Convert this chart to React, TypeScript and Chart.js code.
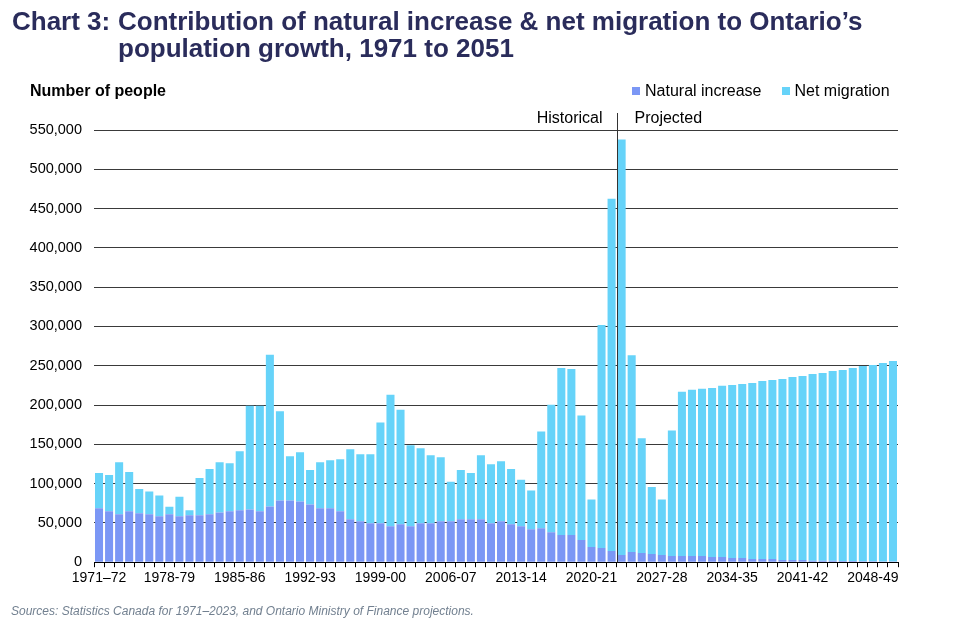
import React, { useEffect, useRef } from 'react';
import { Chart, registerables } from 'chart.js';

Chart.register(...registerables);

const FONT = '"Liberation Sans", Arial, sans-serif';

const categories = [
  '1971–72', '1972-73', '1973-74', '1974-75', '1975-76', '1976-77', '1977-78', '1978-79', '1979-80', '1980-81',
  '1981-82', '1982-83', '1983-84', '1984-85', '1985-86', '1986-87', '1987-88', '1988-89', '1989-90', '1990-91',
  '1991-92', '1992-93', '1993-94', '1994-95', '1995-96', '1996-97', '1997-98', '1998-99', '1999-00', '2000-01',
  '2001-02', '2002-03', '2003-04', '2004-05', '2005-06', '2006-07', '2007-08', '2008-09', '2009-10', '2010-11',
  '2011-12', '2012-13', '2013-14', '2014-15', '2015-16', '2016-17', '2017-18', '2018-19', '2019-20', '2020-21',
  '2021-22', '2022-23', '2023-24', '2024-25', '2025-26', '2026-27', '2027-28', '2028-29', '2029-30', '2030-31',
  '2031-32', '2032-33', '2033-34', '2034-35', '2035-36', '2036-37', '2037-38', '2038-39', '2039-40', '2040-41',
  '2041-42', '2042-43', '2043-44', '2044-45', '2045-46', '2046-47', '2047-48', '2048-49', '2049-50', '2050-51',
];

const naturalIncrease = [
  68500, 64700, 60900, 64700, 62200, 60900, 58400, 60900, 58400, 59700,
  59700, 60900, 63400, 64700, 66000, 67200, 64700, 71000, 78600, 78600,
  77300, 73500, 68500, 68500, 64700, 54600, 52100, 49600, 49600, 45800,
  48300, 45800, 49600, 49600, 52100, 52100, 54600, 54600, 54600, 49600,
  52100, 48300, 45800, 42000, 43300, 38200, 34500, 34500, 28200, 19300,
  18100, 14300, 9200, 13000, 11800, 10500, 9200, 8000, 8000, 8000,
  8000, 6700, 6700, 5500, 5500, 4200, 4200, 4200, 2900, 2900,
  2900, 1700, 1700, 1700, 1500, 1500, 1200, 1200, 1000, 1000,
];

const netMigration = [
  44900, 46200, 66400, 50000, 31100, 29000, 26500, 9700, 24800, 6300,
  47400, 57600, 63900, 61300, 75200, 132000, 134500, 192900, 113400, 56300,
  62600, 43700, 58800, 61300, 66400, 89100, 85300, 87800, 128100, 167200,
  145800, 102900, 95400, 86500, 81500, 50400, 62600, 58800, 81500, 75200,
  76500, 70200, 59200, 49200, 123100, 162200, 212600, 211300, 158400, 60500,
  283900, 448200, 528800, 250400, 145800, 85300, 70600, 159600, 208800, 211300,
  212600, 215100, 217700, 220100, 221400, 224000, 226500, 227700, 230300, 232800,
  234100, 237800, 239100, 241600, 243000, 245600, 248400, 249600, 252400, 254900,
];

const yMax = 550000;
const yStep = 50000;
const labelEvery = 7;
const firstProjectedIndex = 52;

const NATURAL_COLOR = '#7b97f5';
const MIGRATION_COLOR = '#66d3f9';

// Historical / Projected divider
const dividerPlugin = {
  id: 'divider',
  afterDatasetsDraw(chart: Chart) {
    const { ctx, chartArea } = chart;
    const x = chart.scales.x;
    const lineX =
      Math.round((x.getPixelForValue(firstProjectedIndex - 1) + x.getPixelForValue(firstProjectedIndex)) / 2) + 0.5;
    ctx.save();
    ctx.strokeStyle = '#333';
    ctx.lineWidth = 1;
    ctx.beginPath();
    ctx.moveTo(lineX, chartArea.top - 17);
    ctx.lineTo(lineX, chartArea.bottom);
    ctx.stroke();
    ctx.fillStyle = '#000';
    ctx.font = `16px ${FONT}`;
    ctx.textBaseline = 'alphabetic';
    ctx.textAlign = 'right';
    ctx.fillText('Historical', lineX - 15, chartArea.top - 7);
    ctx.textAlign = 'left';
    ctx.fillText('Projected', lineX + 17, chartArea.top - 7);
    ctx.restore();
  },
};

const PopulationGrowthChart: React.FC = () => {
  const chartRef = useRef<HTMLCanvasElement>(null);
  const chartInstance = useRef<Chart | null>(null);

  useEffect(() => {
    if (!chartRef.current) return;
    if (chartInstance.current) {
      chartInstance.current.destroy();
    }
    const ctx = chartRef.current.getContext('2d');
    if (!ctx) return;

    Chart.defaults.font.family = FONT;

    chartInstance.current = new Chart(ctx, {
      type: 'bar',
      data: {
        labels: categories,
        datasets: [
          {
            label: 'Natural increase',
            data: naturalIncrease,
            backgroundColor: NATURAL_COLOR,
            borderWidth: 0,
            categoryPercentage: 1,
            barPercentage: 0.8,
          },
          {
            label: 'Net migration',
            data: netMigration,
            backgroundColor: MIGRATION_COLOR,
            borderWidth: 0,
            categoryPercentage: 1,
            barPercentage: 0.8,
          },
        ],
      },
      options: {
        animation: false,
        responsive: true,
        maintainAspectRatio: false,
        layout: {
          padding: { top: 130, right: 62, bottom: 34, left: 0 },
        },
        plugins: {
          legend: { display: false },
          tooltip: { enabled: false },
        },
        scales: {
          x: {
            stacked: true,
            offset: true,
            grid: {
              offset: true,
              drawOnChartArea: false,
              drawTicks: true,
              tickLength: 5,
              color: '#000',
            },
            border: { display: true, color: '#000', width: 1 },
            ticks: {
              autoSkip: false,
              maxRotation: 0,
              minRotation: 0,
              padding: 3,
              color: '#000',
              font: { size: 14 },
              callback: (_value, index) => (index % labelEvery === 0 ? categories[index] : ''),
            },
          },
          y: {
            stacked: true,
            min: 0,
            max: yMax,
            grid: {
              color: '#3a3a3a',
              drawTicks: false,
            },
            border: { display: false },
            ticks: {
              stepSize: yStep,
              padding: 12,
              color: '#000',
              font: { size: 14.5 },
              callback: (value) => Number(value).toLocaleString('en-US'),
            },
            afterFit: (scale) => {
              scale.width = 94;
            },
          },
        },
      },
      plugins: [dividerPlugin],
    });

    return () => {
      if (chartInstance.current) {
        chartInstance.current.destroy();
        chartInstance.current = null;
      }
    };
  }, []);

  return (
    <div style={{ position: 'absolute', left: 0, top: 0, width: 960, height: 624, background: '#fff', fontFamily: FONT }}>
      <canvas ref={chartRef} />
      <div
        style={{
          position: 'absolute',
          left: 12,
          top: 7.5,
          display: 'flex',
          fontWeight: 'bold',
          fontSize: 26,
          lineHeight: '27px',
          color: '#2a2c5b',
        }}
      >
        <div style={{ width: 106 }}>Chart 3:</div>
        <div style={{ width: 800 }}>Contribution of natural increase &amp; net migration to Ontario’s population growth, 1971 to 2051</div>
      </div>
      <div style={{ position: 'absolute', left: 30, top: 81.5, fontWeight: 'bold', fontSize: 16, lineHeight: '18px' }}>
        Number of people
      </div>
      <div style={{ position: 'absolute', left: 632, top: 82, display: 'flex', alignItems: 'center', fontSize: 16, lineHeight: '18px' }}>
        <span style={{ width: 8, height: 8, background: NATURAL_COLOR, marginRight: 5 }} />
        <span style={{ marginRight: 20 }}>Natural increase</span>
        <span style={{ width: 8, height: 8, background: MIGRATION_COLOR, marginRight: 5 }} />
        <span>Net migration</span>
      </div>
      <div style={{ position: 'absolute', left: 11, top: 604.3, fontStyle: 'italic', fontSize: 12, lineHeight: '14px', color: '#728090' }}>
        Sources: Statistics Canada for 1971–2023, and Ontario Ministry of Finance projections.
      </div>
    </div>
  );
};

export default function App() {
  return <PopulationGrowthChart />;
}
